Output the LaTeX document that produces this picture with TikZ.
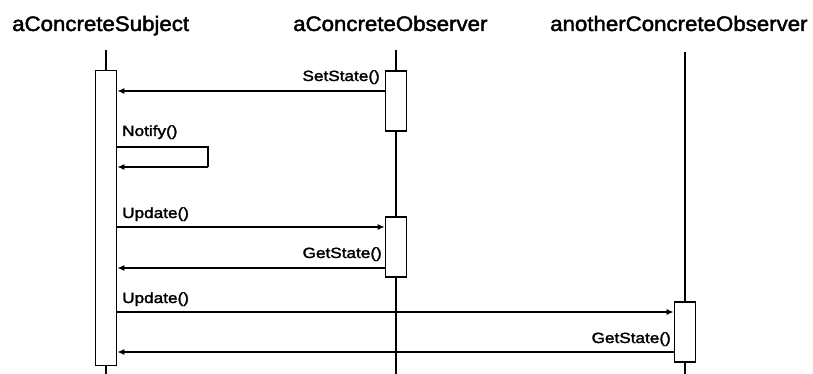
\documentclass[tikz,border=0pt]{standalone}
\usepackage{fontspec}
\usetikzlibrary{arrows.meta}
\newfontfamily\hdrfont[FakeStretch=1.06,FakeBold=2]{Liberation Sans}
\newfontfamily\labfont[FakeStretch=1.16,FakeBold=2]{Liberation Sans}
\begin{document}
\begin{tikzpicture}[x=1pt,y=-1pt,
  hdr/.style={font=\hdrfont\fontsize{21}{21}\selectfont, inner sep=0pt, anchor=base west},
  lab/.style={font=\labfont\fontsize{14.8}{14.8}\selectfont, inner sep=0pt},
  life/.style={line width=1.6pt},
  act/.style={draw, line width=1.6pt, fill=white, minimum width=21pt, inner sep=0pt},
  msg/.style={line width=1.6pt, -{Latex[length=7pt,width=6pt]}}]
\useasboundingbox (0,0) rectangle (813,374);
% headers
\node[hdr] (hS) at (12,31) {aConcreteSubject};
\node[hdr] (hO) at (293,31) {aConcreteObserver};
\node[hdr] (hA) at (550,31) {anotherConcreteObserver};
% lifelines
\coordinate (tS) at (106,50);
\coordinate (bS) at (106,374);
\coordinate (tO) at (396,50);
\coordinate (bO) at (396,374);
\coordinate (tA) at (685,52);
\coordinate (bA) at (685,374);
\draw[life] (tS) -- (bS);
\draw[life] (tO) -- (bO);
\draw[life] (tA) -- (bA);
% activation boxes
\node[act, minimum height=295pt] (S) at (106,218) {};
\node[act, minimum height=60pt] (O1) at (396,101) {};
\node[act, minimum height=60pt] (O2) at (396,247) {};
\node[act, minimum height=60pt] (A1) at (685,332) {};
% message y levels
\coordinate (y1) at (0,91);
\coordinate (y2) at (0,167);
\coordinate (y3) at (0,227);
\coordinate (y4) at (0,268);
\coordinate (y5) at (0,312);
\coordinate (y6) at (0,352);
% SetState
\draw[msg] (O1.west |- y1) -- (S.east |- y1);
\node[lab, anchor=base east] (lSet) at (380,81) {SetState()};
% Notify self call
\coordinate (n1) at (208,147);
\coordinate (n2) at (208,167);
\draw[line width=1.6pt] (S.east |- n1) -- (n1) -- (n2);
\draw[msg] (n2) -- (S.east |- y2);
\node[lab, anchor=base west] (lNot) at (122,136) {Notify()};
% Update 1
\draw[msg] (S.east |- y3) -- (O2.west |- y3);
\node[lab, anchor=base west] (lUp1) at (122,218) {Update()};
% GetState 1
\draw[msg] (O2.west |- y4) -- (S.east |- y4);
\node[lab, anchor=base east] (lGet1) at (382,258) {GetState()};
% Update 2
\draw[msg] (S.east |- y5) -- (A1.west |- y5);
\node[lab, anchor=base west] (lUp2) at (122,303) {Update()};
% GetState 2
\draw[msg] (A1.west |- y6) -- (S.east |- y6);
\node[lab, anchor=base east] (lGet2) at (671,343) {GetState()};
\end{tikzpicture}
\end{document}
